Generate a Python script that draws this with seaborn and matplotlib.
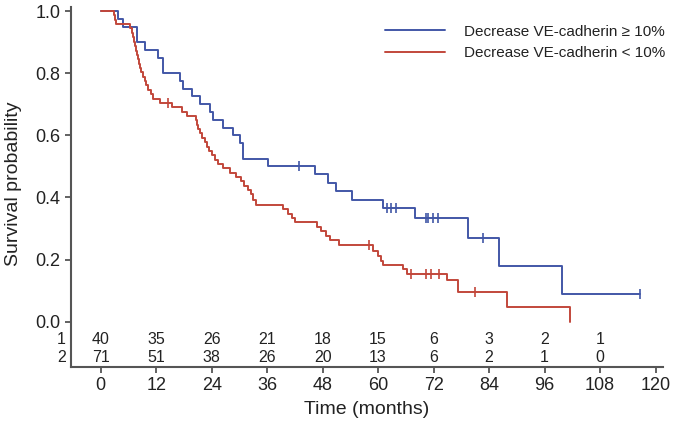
import numpy as np
import pandas as pd
import matplotlib
matplotlib.use("Agg")
import matplotlib.pyplot as plt
import seaborn as sns

# step points (months, survival)
blue_t = [0, 3.8, 4.9, 7.8, 9.6, 12.5, 13.5, 17.1, 17.9, 19.7, 21.5, 23.6, 24.3, 26.5,
          28.7, 30.1, 30.8, 36.2, 46.3, 49.2, 51.0, 54.3, 61.1, 68.0, 79.5, 86.1, 99.7, 116.6]
blue_s = [1.0, 0.975, 0.95, 0.90, 0.875, 0.85, 0.80, 0.775, 0.75, 0.725, 0.70, 0.675, 0.65, 0.625,
          0.60, 0.575, 0.525, 0.50, 0.474, 0.447, 0.421, 0.393, 0.365, 0.333, 0.268, 0.179, 0.089, 0.089]
blue_cens_t = [42.9, 62.0, 62.8, 63.8, 70.3, 70.7, 71.9, 73.0, 82.6, 116.6]
blue_cens_s = [0.50, 0.365, 0.365, 0.365, 0.333, 0.333, 0.333, 0.333, 0.268, 0.089]

red_t = [0, 2.9, 3.2, 3.4, 6.3, 6.8, 7.0, 7.2, 7.4, 7.6, 7.9, 8.1, 8.3, 8.5, 8.8, 9.1, 9.5,
         9.9, 10.3, 10.8, 11.4, 12.9, 15.5, 17.6, 18.7, 20.7, 20.9, 21.1, 21.5, 22.0, 22.5,
         23.0, 23.5, 24.0, 24.7, 25.4, 26.5, 28.0, 29.2, 30.3, 31.1, 31.8, 32.5, 33.0, 33.6,
         39.4, 40.6, 41.3, 42.0, 46.8, 47.6, 48.8, 49.6, 51.6, 58.9, 59.9, 60.6, 61.1, 65.3,
         66.2, 75.0, 77.3, 87.8, 101.6]
red_s = [1.0, 0.986, 0.972, 0.958, 0.944, 0.930, 0.915, 0.901, 0.887, 0.873, 0.859, 0.845, 0.831,
         0.817, 0.803, 0.789, 0.775, 0.761, 0.746, 0.732, 0.718, 0.704, 0.690, 0.676, 0.662, 0.648,
         0.634, 0.620, 0.606, 0.592, 0.578, 0.564, 0.550, 0.536, 0.522, 0.508, 0.494, 0.480, 0.466,
         0.452, 0.438, 0.424, 0.410, 0.393, 0.377, 0.363, 0.348, 0.334, 0.320, 0.305, 0.291, 0.276,
         0.262, 0.247, 0.228, 0.210, 0.196, 0.184, 0.170, 0.155, 0.135, 0.095, 0.047, 0.0]
red_cens_t = [14.5, 58.0, 67.2, 70.3, 71.5, 73.2, 80.9]
red_cens_s = [0.704, 0.247, 0.155, 0.155, 0.155, 0.155, 0.095]

groups = ["Decrease VE-cadherin \u2265 10%", "Decrease VE-cadherin < 10%"]
colors = ["#4257a7", "#c2473b"]

risk_times = [0, 12, 24, 36, 48, 60, 72, 84, 96, 108]
risk_1 = [40, 35, 26, 21, 18, 15, 6, 3, 2, 1]
risk_2 = [71, 51, 38, 26, 20, 13, 6, 2, 1, 0]

df = pd.concat([
    pd.DataFrame({"time": blue_t, "surv": blue_s, "group": groups[0]}),
    pd.DataFrame({"time": red_t, "surv": red_s, "group": groups[1]}),
])

sns.set_theme(style="ticks")
plt.rcParams['font.family'] = ['Liberation Sans', 'DejaVu Sans']
txt = "#222222"
spine_c = "#555555"

fig = plt.figure(figsize=(6.73, 4.28), dpi=100)
ax = fig.add_axes([0.1055, 0.1432, 0.8795, 0.8404])

sns.lineplot(data=df, x="time", y="surv", hue="group", hue_order=groups,
             palette=dict(zip(groups, colors)), drawstyle="steps-post",
             estimator=None, sort=False, linewidth=1.4, ax=ax)
ax.plot(blue_cens_t, blue_cens_s, ls="none", marker="|", ms=7, mew=1.2, color=colors[0])
ax.plot(red_cens_t, red_cens_s, ls="none", marker="|", ms=7, mew=1.2, color=colors[1])

ax.set_xlim(-6.42, 121.6)
ax.set_ylim(-0.1448, 1.013)
ax.set_yticks([0, 0.2, 0.4, 0.6, 0.8, 1.0])
ax.set_yticklabels(["0.0", "0.2", "0.4", "0.6", "0.8", "1.0"])
ax.set_xticks(list(range(0, 121, 12)))
ax.tick_params(axis="both", labelsize=13, colors=spine_c, labelcolor=txt,
               length=4, width=1.3, direction="out")
sns.despine(ax=ax)
for s in ["left", "bottom"]:
    ax.spines[s].set_color(spine_c)
    ax.spines[s].set_linewidth(1.5)

ax.set_xlabel("Time (months)", fontsize=14, color=txt, labelpad=5)
ax.set_ylabel("Survival probability", fontsize=14, color=txt)
ax.yaxis.set_label_coords(-0.083, 0.51)

# numbers at risk
for row, (lab, vals, yy) in enumerate([("1", risk_1, -0.0566), ("2", risk_2, -0.1146)]):
    ax.text(-7.6, yy, lab, ha="right", va="center", fontsize=11.5, color=txt, clip_on=False)
    for t, v in zip(risk_times, vals):
        ax.text(t, yy, str(v), ha="center", va="center", fontsize=11.5, color=txt)

handles, labels = ax.get_legend_handles_labels()
leg = ax.legend(handles, labels, loc="upper left", bbox_to_anchor=(0.572, 0.942),
                bbox_transform=fig.transFigure, frameon=False, fontsize=11,
                handlelength=3.9, handletextpad=1.3, labelspacing=0.5,
                borderpad=0, borderaxespad=0)
for t in leg.get_texts():
    t.set_color(txt)

fig.savefig("out.png", dpi=100, facecolor="white")
